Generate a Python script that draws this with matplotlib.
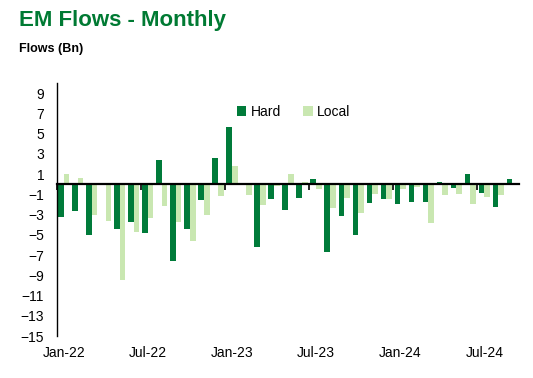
import numpy as np
import matplotlib.pyplot as plt

# Data (Bn), Jan-22 .. Sep-24
months = ['Jan-22', 'Feb-22', 'Mar-22', 'Apr-22', 'May-22', 'Jun-22', 'Jul-22', 'Aug-22',
          'Sep-22', 'Oct-22', 'Nov-22', 'Dec-22', 'Jan-23', 'Feb-23', 'Mar-23', 'Apr-23',
          'May-23', 'Jun-23', 'Jul-23', 'Aug-23', 'Sep-23', 'Oct-23', 'Nov-23', 'Dec-23',
          'Jan-24', 'Feb-24', 'Mar-24', 'Apr-24', 'May-24', 'Jun-24', 'Jul-24', 'Aug-24',
          'Sep-24']
hard = [-3.25, -2.65, -5.0, 0.0, -4.4, -3.7, -4.8, 2.4, -7.6, -4.4, -1.55, 2.6,
        5.7, 0.1, -6.15, -1.45, -2.5, -1.35, 0.5, -6.65, -3.1, -5.0, -1.85, -1.45,
        -1.95, -1.75, -1.75, 0.2, -0.35, 1.0, -0.85, -2.25, 0.5]
local = [1.0, 0.6, -3.05, -3.65, -9.5, -4.7, -3.3, -2.15, -3.7, -5.6, -3.05, -1.2,
         1.85, -1.05, -2.05, -0.2, 1.0, 0.2, -0.45, -2.35, -1.35, -2.8, -0.95, -1.45,
         -0.45, -0.25, -3.8, -1.05, -0.95, -1.95, -1.25, -1.05, 0.0]
label_months = ['Jan-22', 'Jul-22', 'Jan-23', 'Jul-23', 'Jan-24', 'Jul-24']

plt.rcParams['font.family'] = ['Liberation Sans', 'DejaVu Sans']

dark = '#007B3A'
light = '#C9E7B1'

fig = plt.figure(figsize=(5.33, 3.78), dpi=100)
ax = fig.add_axes([0.1064, 0.111, 0.868, 0.669])

x = np.arange(len(months))
w = 0.4
ax.bar(x - w / 2, hard, w, color=dark, label='Hard')
ax.bar(x + w / 2, local, w, color=light, label='Local')

ax.set_xlim(-0.5, len(months) - 0.5)
ax.set_ylim(-15, 10)
ax.set_yticks(np.arange(-15, 10, 2))
ax.tick_params(axis='y', length=0, pad=9, labelsize=10)

for s in ['top', 'right']:
    ax.spines[s].set_visible(False)
ax.spines['left'].set_linewidth(1.0)
ax.spines['bottom'].set_position(('data', 0))
ax.spines['bottom'].set_linewidth(1.6)

# tick marks on the zero line, at month boundaries before each label month
idx = [months.index(m) for m in label_months]
ax.set_xticks([i - 0.5 for i in idx])
ax.set_xticklabels([])
ax.tick_params(axis='x', direction='out', length=4, width=1.2)

sec = ax.secondary_xaxis(0)
sec.set_xticks(idx)
sec.set_xticklabels(label_months)
sec.tick_params(length=0, pad=7, labelsize=10)
sec.spines['bottom'].set_visible(False)

ax.legend(loc='upper center', bbox_to_anchor=(0.512, 0.965), ncol=2, frameon=False,
          fontsize=10, handlelength=0.7, handleheight=0.7, handletextpad=0.3,
          columnspacing=1.6)

fig.text(0.036, 0.947, 'EM Flows - Monthly', fontsize=16, fontweight='bold',
         color='#007A33', va='center')
fig.text(0.036, 0.870, 'Flows (Bn)', fontsize=9, fontweight='bold', va='center')

fig.savefig('out.png', dpi=100)
